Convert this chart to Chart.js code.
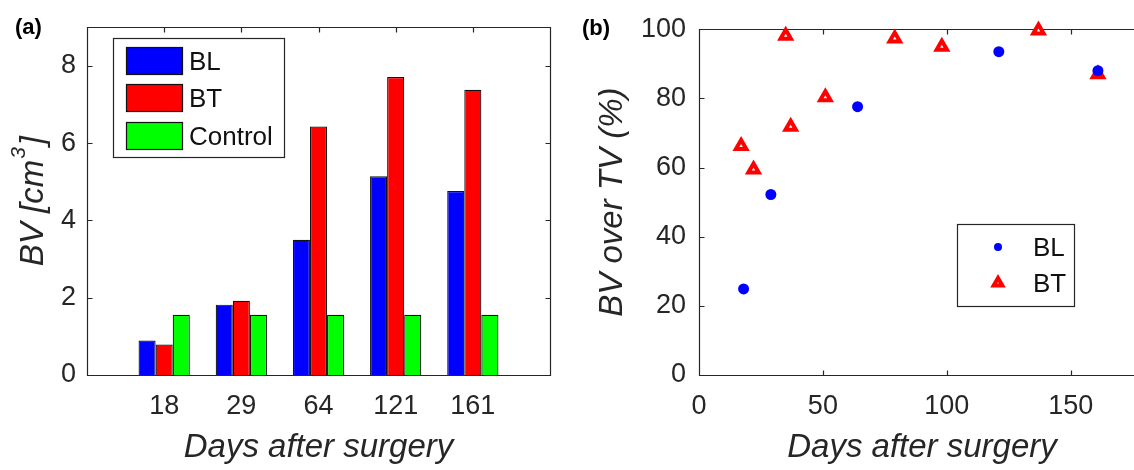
<!DOCTYPE html>
<html>
<head>
<meta charset="utf-8">
<script src="https://cdn.jsdelivr.net/npm/chart.js@4"></script>
<style>
html, body { margin:0; padding:0; background:#fff; overflow:hidden; width:1134px; height:470px; }
#wrapA { position:absolute; left:0; top:0; width:565px; height:470px; }
#wrapB { position:absolute; left:565px; top:0; width:600px; height:470px; }
</style>
</head>
<body>
<div id="wrapA"><canvas id="chartA" width="565" height="470"></canvas></div>
<div id="wrapB"><canvas id="chartB" width="600" height="470"></canvas></div>
<script>
// panel (a): BV per scan day
const days = ["18", "29", "64", "121", "161"];
const bvBL = [0.89, 1.82, 3.50, 5.14, 4.76];
const bvBT = [0.79, 1.92, 6.43, 7.71, 7.38];
const bvControl = [1.56, 1.56, 1.56, 1.56, 1.56];
const bvTicks = [0, 2, 4, 6, 8];

// panel (b): BV over TV (%) against day
const blDays = [18, 29, 64, 121, 161];
const blPct = [24.9, 52.2, 77.6, 93.5, 88.0];
const btDays = [17, 22, 35, 37, 51, 79, 98, 137, 161];
const btPct = [66.2, 59.4, 98.1, 71.8, 80.3, 97.3, 94.9, 99.6, 87.0];
const dayTicks = [0, 50, 100, 150];
const pctTicks = [0, 20, 40, 60, 80, 100];

const AXIS = "#262626";
const FONT = "'Liberation Sans', Arial, sans-serif";
const BLUE = "#0000ff", RED = "#ff0000", GREEN = "#00ff00";

// box round the axes with inward ticks (drawn under the data, like matlab)
const framePlugin = {
  id: "frame",
  beforeDatasetsDraw(chart){
    const {ctx, chartArea: a} = chart;
    const x = chart.scales.x, y = chart.scales.y;
    const L = Math.round(a.left) + 0.5, R = Math.round(a.right) + 0.5;
    const T = Math.round(a.top) + 0.5, B = Math.round(a.bottom) + 0.5;
    const len = 5;
    ctx.save();
    ctx.strokeStyle = AXIS;
    ctx.lineWidth = 1.2;
    ctx.beginPath();
    ctx.rect(L, T, R - L, B - T);
    x.ticks.forEach((t, i) => {
      if(t.label === "") return;
      const px = Math.round(x.getPixelForTick(i)) + 0.5;
      ctx.moveTo(px, B); ctx.lineTo(px, B - len);
      ctx.moveTo(px, T); ctx.lineTo(px, T + len);
    });
    y.ticks.forEach((t, i) => {
      const py = Math.round(y.getPixelForTick(i)) + 0.5;
      ctx.moveTo(L, py); ctx.lineTo(L + len, py);
      ctx.moveTo(R, py); ctx.lineTo(R - len, py);
    });
    ctx.stroke();
    ctx.restore();
  }
};

function panelLetter(ctx, text, x, y){
  ctx.save();
  ctx.fillStyle = "#000";
  ctx.font = "bold 22px " + FONT;
  ctx.textBaseline = "middle";
  ctx.fillText(text, x, y);
  ctx.restore();
}

const overlayA = {
  id: "overlayA",
  afterDraw(chart){
    const ctx = chart.ctx;
    panelLetter(ctx, "(a)", 15, 28);

    // y title with superscript
    const a = chart.chartArea;
    const big = "italic 33px " + FONT, small = "italic 21px " + FONT;
    ctx.save();
    ctx.translate(32, (a.top + a.bottom) / 2);
    ctx.rotate(-Math.PI / 2);
    ctx.fillStyle = AXIS;
    ctx.textBaseline = "alphabetic";
    ctx.font = big;  const w1 = ctx.measureText("BV [cm").width, w3 = ctx.measureText("]").width;
    ctx.font = small; const w2 = ctx.measureText("3").width;
    const x0 = -(w1 + w2 + w3 + 3) / 2;
    const base = 11;
    ctx.font = big; ctx.fillText("BV [cm", x0, base);
    ctx.font = small; ctx.fillText("3", x0 + w1 + 1, base - 18);
    ctx.font = big; ctx.fillText("]", x0 + w1 + w2 + 3, base);
    ctx.restore();

    // legend
    ctx.save();
    ctx.fillStyle = "#fff";
    ctx.fillRect(113, 38, 171, 119);
    ctx.strokeStyle = AXIS; ctx.lineWidth = 1.2;
    ctx.strokeRect(113.5, 38.5, 171, 119);
    ctx.font = "26px " + FONT;
    ctx.textBaseline = "middle";
    chart.data.datasets.forEach((ds, i) => {
      const top = 47 + Math.round(i * 37.3);
      ctx.fillStyle = ds.backgroundColor;
      ctx.fillRect(126, top, 56, 27);
      ctx.strokeStyle = "#111";
      ctx.strokeRect(126.5, top + 0.5, 56, 27);
      ctx.fillStyle = "#111";
      ctx.fillText(ds.label, 189, top + 16);
    });
    ctx.restore();
  }
};

const overlayB = {
  id: "overlayB",
  afterDraw(chart){
    const ctx = chart.ctx;
    panelLetter(ctx, "(b)", 17, 29);
    ctx.save();
    ctx.fillStyle = "#fff";
    ctx.fillRect(392, 224, 117, 82);
    ctx.strokeStyle = AXIS; ctx.lineWidth = 1.2;
    ctx.strokeRect(392.5, 224.5, 117, 82);
    ctx.font = "26px " + FONT;
    ctx.textBaseline = "middle";
    chart.data.datasets.forEach((ds, i) => {
      const cy = 247 + i * 36;
      ctx.fillStyle = ds.backgroundColor;
      ctx.strokeStyle = ds.borderColor;
      ctx.lineWidth = ds.borderWidth;
      Chart.helpers.drawPoint(ctx, {pointStyle: ds.pointStyle, radius: i ? 5 : 4, rotation: 0, borderWidth: ds.borderWidth}, 433, cy);
      ctx.fillStyle = "#111";
      ctx.fillText(ds.label, 468, cy + 2);
    });
    ctx.restore();
  }
};

const tickFont = {family: FONT, size: 27};
const titleFont = {family: FONT, size: 33, style: "italic"};

new Chart(document.getElementById("chartA"), {
  type: "bar",
  data: {
    labels: ["", ...days, ""],
    datasets: [
      {label: "BL", data: [null, ...bvBL, null], backgroundColor: BLUE},
      {label: "BT", data: [null, ...bvBT, null], backgroundColor: RED},
      {label: "Control", data: [null, ...bvControl, null], backgroundColor: GREEN}
    ]
  },
  options: {
    responsive: false,
    animation: false,
    layout: {padding: {top: 14, right: 8, left: 0, bottom: 0}},
    datasets: {bar: {categoryPercentage: 0.664, barPercentage: 1, borderWidth: 1.2, borderColor: "#111"}},
    plugins: {legend: {display: false}, tooltip: {enabled: false}},
    scales: {
      x: {
        type: "category", offset: false,
        grid: {display: false, drawTicks: false}, border: {display: false},
        ticks: {autoSkip: false, maxRotation: 0, padding: 15, color: AXIS, font: tickFont},
        title: {display: true, text: "Days after surgery", color: AXIS, font: titleFont, padding: {top: 0, bottom: 2}},
        afterFit(s){ s.height = 95; }
      },
      y: {
        min: 0, max: 9,
        grid: {display: false, drawTicks: false}, border: {display: false},
        ticks: {padding: 11, color: AXIS, font: tickFont},
        afterBuildTicks(s){ s.ticks = bvTicks.map(v => ({value: v})); },
        afterFit(s){ s.width = 87; }
      }
    }
  },
  plugins: [framePlugin, overlayA]
});

new Chart(document.getElementById("chartB"), {
  type: "scatter",
  data: {
    datasets: [
      {label: "BL", data: blDays.map((d, i) => ({x: d, y: blPct[i]})),
       pointStyle: "circle", pointRadius: 5.5, backgroundColor: BLUE, borderColor: BLUE, borderWidth: 0, clip: false},
      {label: "BT", data: btDays.map((d, i) => ({x: d, y: btPct[i]})),
       pointStyle: "triangle", pointRadius: 6, backgroundColor: "#ffffff", borderColor: RED, borderWidth: 4, clip: false}
    ]
  },
  options: {
    responsive: false,
    animation: false,
    layout: {padding: {top: 16, right: 20, left: 0, bottom: 0}},
    plugins: {legend: {display: false}, tooltip: {enabled: false}},
    scales: {
      x: {
        type: "linear", min: 0, max: 180,
        grid: {display: false, drawTicks: false}, border: {display: false},
        ticks: {padding: 15, color: AXIS, font: tickFont},
        afterBuildTicks(s){ s.ticks = dayTicks.map(v => ({value: v})); },
        title: {display: true, text: "Days after surgery", color: AXIS, font: titleFont, padding: {top: 0, bottom: 2}},
        afterFit(s){ s.height = 95; }
      },
      y: {
        min: 0, max: 100,
        grid: {display: false, drawTicks: false}, border: {display: false},
        ticks: {padding: 13, color: AXIS, font: tickFont},
        afterBuildTicks(s){ s.ticks = pctTicks.map(v => ({value: v})); },
        title: {display: true, text: "BV over TV (%)", color: AXIS, font: titleFont, padding: {top: 28, bottom: 0}},
        afterFit(s){ s.width = 134; }
      }
    }
  },
  plugins: [framePlugin, overlayB]
});
</script>
</body>
</html>
